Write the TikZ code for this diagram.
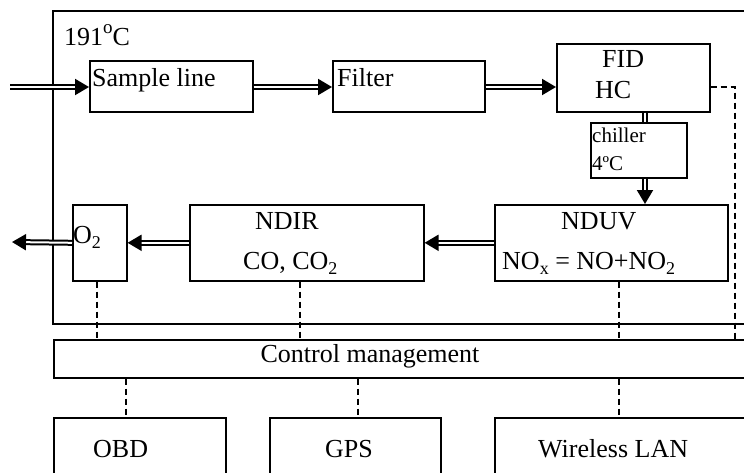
\documentclass[tikz,border=0pt]{standalone}
\usepackage{fontspec}
\setmainfont{Liberation Serif}
\usetikzlibrary{arrows.meta}
\newcommand\mysub[1]{\raisebox{-5pt}{\fontsize{18}{20}\selectfont #1}}
\newcommand\mysup[1]{\raisebox{12pt}{\fontsize{19}{20}\selectfont #1}}
\begin{document}
\begin{tikzpicture}[x=1pt,y=-1pt,
  box/.style={draw, line width=1.6pt, rectangle, inner sep=0pt, anchor=north west},
  txt/.style={inner sep=0pt, anchor=base west, font=\fontsize{26}{30}\selectfont},
  smalltxt/.style={inner sep=0pt, anchor=base west, font=\fontsize{21}{25}\selectfont},
  flow/.style={double, double distance=2pt, line width=2pt, -{Triangle[length=14pt,width=16pt]}},
  flowplain/.style={double, double distance=2pt, line width=2pt},
  dashline/.style={line width=1.3pt, dash pattern=on 6pt off 4pt}]
\useasboundingbox (0,0) rectangle (744,472);
\clip (0,0) rectangle (744,472);
% containers and boxes
\node[box, line width=2pt, minimum width=720pt, minimum height=313pt] (outer) at (52,10) {};
\node[box, minimum width=720pt, minimum height=38pt] (ctrl) at (53,339) {};
\node[box, minimum width=163pt, minimum height=51pt] (sample) at (89,60) {};
\node[box, minimum width=152pt, minimum height=51pt] (filter) at (332,60) {};
\node[box, minimum width=153pt, minimum height=68pt] (fid) at (556,43) {};
\node[box, minimum width=96pt, minimum height=55pt] (chiller) at (590,122) {};
\node[box, minimum width=233pt, minimum height=76pt] (nduv) at (494,204) {};
\node[box, minimum width=234pt, minimum height=76pt] (ndir) at (189,204) {};
\node[box, minimum width=54pt, minimum height=76pt] (o2) at (72,204) {};
\node[box, minimum width=172pt, minimum height=80pt] (obd) at (53,417) {};
\node[box, minimum width=171pt, minimum height=80pt] (gps) at (269,417) {};
\node[box, minimum width=270pt, minimum height=80pt] (wlan) at (494,417) {};
% texts
\node[txt] (ttemp) at (64,45) {191\mysup{o}C};
\node[txt] (tsample) at (92,86) {Sample line};
\node[txt] (tfilter) at (337,86) {Filter};
\node[txt] (tfid) at (602,67) {FID};
\node[txt] (thc) at (595,98) {HC};
\node[smalltxt] (tchill) at (592,142) {chiller};
\node[smalltxt] (tfour) at (592,170) {4ºC};
\node[txt] (tnduv) at (561,229) {NDUV};
\node[txt] (tnox) at (502,269) {NO\mysub{x} = NO+NO\mysub{2}};
\node[txt] (tndir) at (255,229) {NDIR};
\node[txt] (tco) at (243,269) {CO, CO\mysub{2}};
\node[txt] (to2) at (73,243) {O\mysub{2}};
\node[txt, anchor=base] (tctrl) at (370,362) {Control management};
\node[txt] (tobd) at (93,457) {OBD};
\node[txt] (tgps) at (325,457) {GPS};
\node[txt] (twlan) at (538,457) {Wireless LAN};
% flow connectors
\coordinate (inlet) at (10,87);
\coordinate (outlet) at (12,242);
\draw[flow] (inlet) -- (sample.west |- inlet);
\draw[flow] (sample.east |- inlet) -- (filter.west |- inlet);
\draw[flow] (filter.east |- inlet) -- (fid.west |- inlet);
\draw[flowplain] (fid.south -| 645,0) -- (chiller.north -| 645,0);
\draw[flow] (chiller.south -| 645,0) -- (nduv.north -| 645,0);
\draw[flow] (nduv.west) -- (ndir.east);
\draw[flow] (ndir.west) -- (o2.east);
\draw[flow] (o2.west) -- (outlet);
% dashed signal lines
\draw[dashline] (o2.south -| 97,0) -- (ctrl.north -| 97,0);
\draw[dashline] (ndir.south -| 300,0) -- (ctrl.north -| 300,0);
\draw[dashline] (nduv.south -| 619,0) -- (ctrl.north -| 619,0);
\draw[dashline] (fid.east |- 0,87) -| (ctrl.north -| 735,0);
\draw[dashline] (ctrl.south -| 126,0) -- (obd.north -| 126,0);
\draw[dashline] (ctrl.south -| 358,0) -- (gps.north -| 358,0);
\draw[dashline] (ctrl.south -| 619,0) -- (wlan.north -| 619,0);
\end{tikzpicture}
\end{document}
